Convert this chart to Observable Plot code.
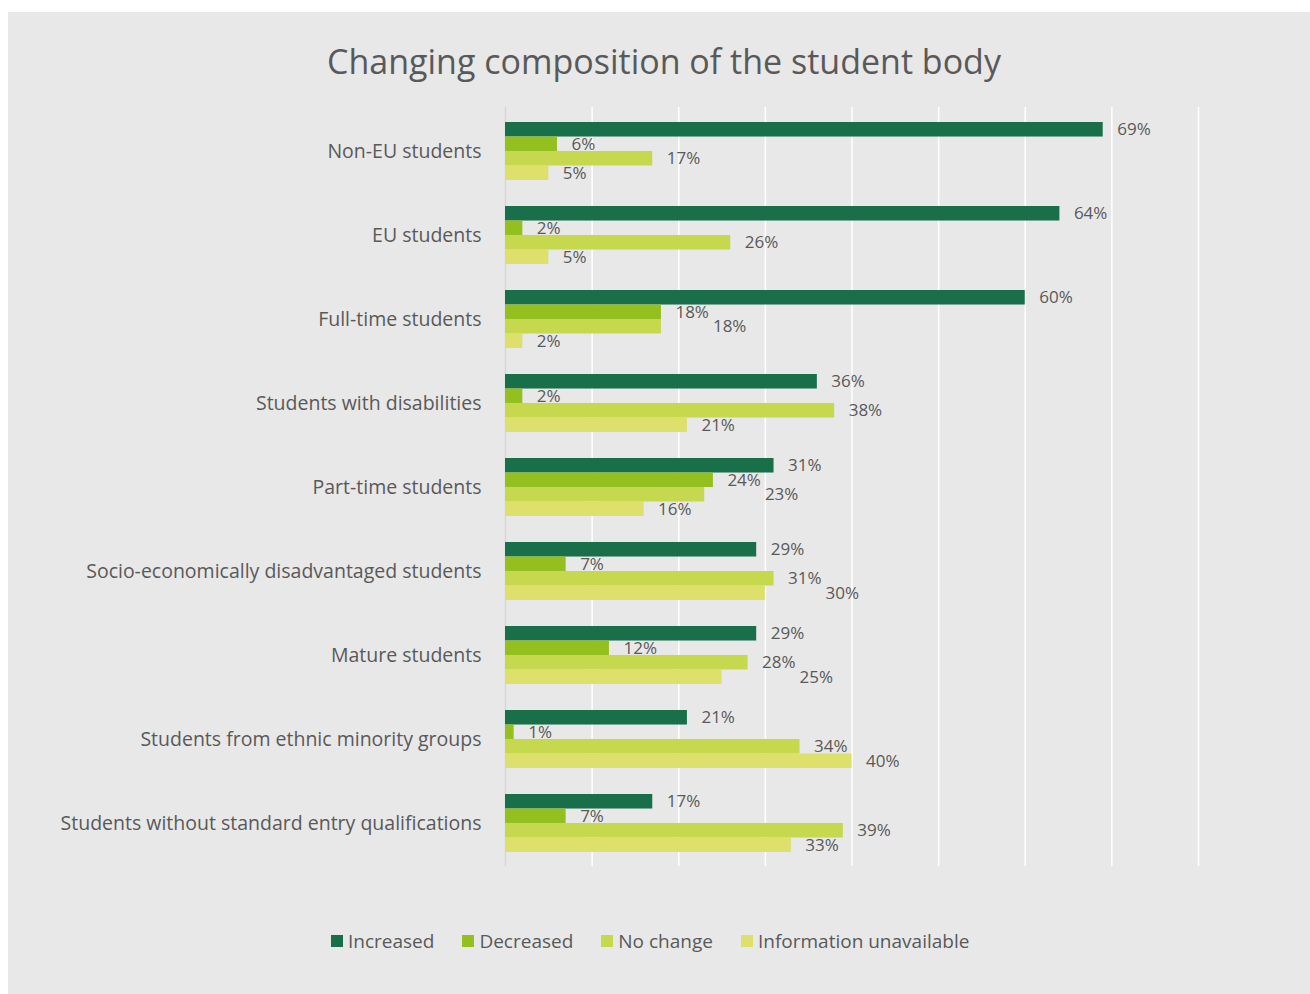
<!DOCTYPE html>
<html>
<head>
<meta charset="utf-8">
<script src="https://cdn.jsdelivr.net/npm/d3@7"></script>
<script src="https://cdn.jsdelivr.net/npm/@observablehq/plot@0.6"></script>
<style>
  html, body { margin: 0; padding: 0; background: #ffffff; }
  #panel {
    position: absolute; left: 8px; top: 12px; width: 1302px; height: 982px;
    background: #e8e8e8; font-family: "Open Sans", sans-serif; color: #595959;
  }
  #title {
    height: 88px; box-sizing: border-box; padding-top: 29px;
    text-align: center; font-size: 34px; line-height: 40px; color: #595959;
    padding-left: 10px;
  }
  #chart svg { display: block; }
  #legend {
    display: flex; justify-content: flex-start; align-items: center;
    margin-left: 323px; margin-top: 32px; font-size: 19px; color: #595959;
  }
  .item { display: flex; align-items: center; margin-right: 28px; }
  .sw { width: 12px; height: 12px; margin-right: 5px; }
</style>
</head>
<body>
<div id="panel">
  <div id="title">Changing composition of the student body</div>
  <div id="chart"></div>
  <div id="legend"></div>
</div>
<script>
const categories = [
  "Non-EU students",
  "EU students",
  "Full-time students",
  "Students with disabilities",
  "Part-time students",
  "Socio-economically disadvantaged students",
  "Mature students",
  "Students from ethnic minority groups",
  "Students without standard entry qualifications"
];
const series = ["Increased", "Decreased", "No change", "Information unavailable"];
const increased   = [69, 64, 60, 36, 31, 29, 29, 21, 17];
const decreased   = [6, 2, 18, 2, 24, 7, 12, 1, 7];
const noChange    = [17, 26, 18, 38, 23, 31, 28, 34, 39];
const infoUnavail = [5, 5, 2, 21, 16, 30, 25, 40, 33];
const xTicks = [0, 10, 20, 30, 40, 50, 60, 70, 80];
const colors = ["#186f4a", "#93c01f", "#c5d84e", "#dde06a"];

const W = 1302, H = 796, mt = 7, mb = 30, ml = 497, mr = 112;
const xMax = 80;
const labelFont = 17, labelGap = 14;
const pxPerUnit = (W - ml - mr) / xMax;

// measure label widths to avoid overlapping value labels (like the original's nudged labels)
const ctx = document.createElement("canvas").getContext("2d");
ctx.font = labelFont + "px 'Open Sans'";
const textW = t => ctx.measureText(t).width;

const valuesBySeries = [increased, decreased, noChange, infoUnavail];
const data = [];
categories.forEach((c, ci) => {
  let prev = null;
  series.forEach((s, si) => {
    const v = valuesBySeries[si][ci];
    const text = v + "%";
    const w = textW(text);
    let start = v * pxPerUnit + labelGap;
    if (prev && start < prev.end + 3 && start + w > prev.start - 3) {
      start = prev.end + 4;
    }
    prev = {start, end: start + w};
    data.push({category: c, series: s, si, value: v, text, labelX: start / pxPerUnit});
  });
});

const padIn = 0.313, padOut = 0.154;
const step = (H - mt - mb) / (categories.length - padIn + 2 * padOut);
const bw = step * (1 - padIn);
const barH = bw / series.length;

const marks = [
  Plot.ruleX(xTicks.filter(t => t > 0), {stroke: "#ffffff", strokeWidth: 1.5}),
  Plot.ruleX([0], {stroke: "#d6d6d6", strokeWidth: 1.5})
];
series.forEach((s, si) => {
  const d = data.filter(r => r.si === si);
  marks.push(Plot.barX(d, {
    x: "value", y: "category", fill: colors[si],
    insetTop: si * barH, insetBottom: (series.length - 1 - si) * barH
  }));
  marks.push(Plot.text(d, {
    x: "labelX", y: "category", text: "text",
    dy: (si - (series.length - 1) / 2) * barH,
    textAnchor: "start", lineAnchor: "middle",
    fill: "#595959", fontSize: labelFont
  }));
});

const chart = Plot.plot({
  width: W, height: H,
  marginTop: mt, marginBottom: mb, marginLeft: ml, marginRight: mr,
  style: {background: "transparent", fontFamily: "Open Sans, sans-serif", color: "#595959"},
  x: {domain: [0, xMax], axis: null, clamp: false},
  y: {domain: categories, paddingInner: padIn, paddingOuter: padOut, label: null,
      tickSize: 0, tickPadding: 24},
  marks
});
chart.querySelectorAll("g[aria-label='y-axis tick label']").forEach(el => {
  el.setAttribute("font-size", "19.5");
  el.setAttribute("fill", "#595959");
});
document.getElementById("chart").appendChild(chart);

const legend = document.getElementById("legend");
series.forEach((s, si) => {
  const it = document.createElement("div");
  it.className = "item";
  const sw = document.createElement("div");
  sw.className = "sw";
  sw.style.background = colors[si];
  const lb = document.createElement("span");
  lb.textContent = s;
  it.appendChild(sw); it.appendChild(lb);
  legend.appendChild(it);
});
</script>
</body>
</html>
